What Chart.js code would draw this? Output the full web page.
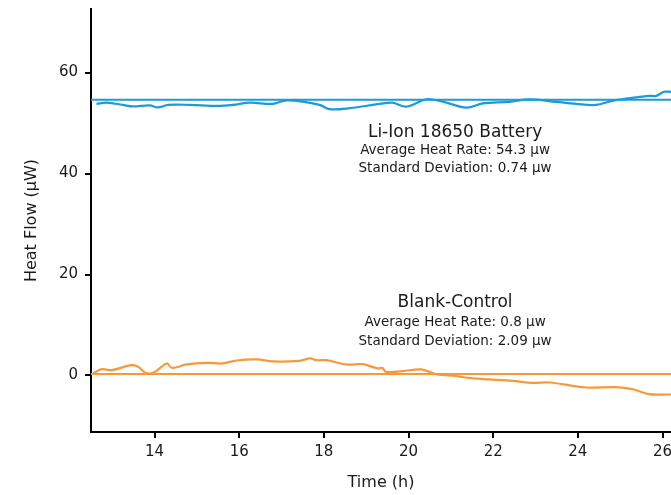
<!DOCTYPE html>
<html>
<head>
<meta charset="utf-8">
<script src="https://cdn.jsdelivr.net/npm/chart.js@4/dist/chart.umd.min.js"></script>
<style>
html,body{margin:0;padding:0;background:#fff;}
#wrap{width:671px;height:495px;position:relative;}
</style>
</head>
<body>
<div id="wrap"><canvas id="c" width="671" height="495"></canvas></div>
<script>
// ---- data ----
const liIonTime = [12.63,12.87,13.25,13.49,13.89,14.08,14.32,14.83,15.47,15.85,16.25,16.79,17.08,17.5,17.9,18.14,18.61,19.32,19.62,19.95,20.42,20.8,21.37,21.75,22.38,22.85,23.49,23.96,24.43,24.81,25.38,25.68,25.85,26.04,26.2];
const liIonFlow = [53.8,54.05,53.6,53.3,53.5,53.1,53.6,53.6,53.4,53.6,54.05,53.8,54.45,54.25,53.6,52.75,52.95,53.8,54.05,53.26,54.7,54.25,53.06,53.9,54.2,54.7,54.2,53.8,53.6,54.4,55.1,55.4,55.4,56.2,56.2];
const blankTime = [12.55,12.75,12.99,13.46,13.62,13.77,13.97,14.29,14.41,14.76,15.23,15.61,15.94,16.41,16.8,17.43,17.67,17.82,18.06,18.53,18.92,19.27,19.38,19.47,19.86,20.3,20.65,21.13,21.52,21.91,22.46,22.93,23.33,24.19,24.9,25.29,25.68,26.2];
const blankFlow = [0.4,1.25,1.05,2.04,1.7,0.6,0.52,2.38,1.5,2.18,2.5,2.38,2.97,3.17,2.78,2.9,3.37,3.03,3.03,2.18,2.24,1.39,1.5,0.71,0.85,1.19,0.26,-0.14,-0.59,-0.79,-1.07,-1.47,-1.39,-2.38,-2.32,-2.72,-3.71,-3.77];
const avgLineTime = [12.5, 26.2];
const liIonAvg = [54.6, 54.6];
const blankAvg = [0.3, 0.3];
const xTicks = [14,16,18,20,22,24,26];
const yTicks = [0,20,40,60];
const liIonNotes = ["Li-Ion 18650 Battery","Average Heat Rate: 54.3 \u03bcw","Standard Deviation: 0.74 \u03bcw"];
const blankNotes = ["Blank-Control","Average Heat Rate: 0.8 \u03bcw","Standard Deviation: 2.09 \u03bcw"];

const BLUE = '#1b9bd7';
const ORANGE = '#f7993b';
const FONT = '"DejaVu Sans", sans-serif';

function pts(xs, ys){ return xs.map((x,i)=>({x:x, y:ys[i]})); }

const notesPlugin = {
  id: 'notes',
  afterDatasetsDraw(chart){
    const ctx = chart.ctx;
    const xs = chart.scales.x, ys = chart.scales.y;
    const cx = xs.getPixelForValue(21.1);
    function block(lines, yv){
      ctx.save();
      ctx.fillStyle = '#1a1a1a';
      ctx.textAlign = 'center';
      ctx.textBaseline = 'middle';
      ctx.font = '17px ' + FONT;
      ctx.fillText(lines[0], cx, ys.getPixelForValue(yv[0]));
      ctx.font = '13.5px ' + FONT;
      ctx.fillText(lines[1], cx, ys.getPixelForValue(yv[1]));
      ctx.fillText(lines[2], cx, ys.getPixelForValue(yv[2]));
      ctx.restore();
    }
    block(liIonNotes, [48.2, 44.5, 41.1]);
    block(blankNotes, [14.5, 10.4, 6.8]);
  }
};

new Chart(document.getElementById('c'), {
  type: 'line',
  data: {
    datasets: [
      {data: pts(avgLineTime, liIonAvg), borderColor: BLUE, borderWidth: 2, pointRadius: 0, tension: 0},
      {data: pts(liIonTime, liIonFlow), borderColor: BLUE, borderWidth: 2.2, pointRadius: 0, tension: 0.35},
      {data: pts(avgLineTime, blankAvg), borderColor: ORANGE, borderWidth: 2, pointRadius: 0, tension: 0},
      {data: pts(blankTime, blankFlow), borderColor: ORANGE, borderWidth: 2.2, pointRadius: 0, tension: 0.35}
    ]
  },
  options: {
    responsive: false,
    animation: false,
    events: [],
    layout: {padding: {top: 9, right: 0, left: 0, bottom: 0}},
    plugins: {legend: {display: false}, tooltip: {enabled: false}},
    scales: {
      x: {
        type: 'linear',
        min: 12.5, max: 26.2,
        afterBuildTicks(s){ s.ticks = xTicks.map(v=>({value:v})); },
        afterFit(s){ s.height = 63; s.paddingLeft = 0; s.paddingRight = 0; },
        border: {display: true, color: '#000', width: 2},
        grid: {drawOnChartArea: false, drawTicks: true, tickLength: 6, color: '#000', lineWidth: 2},
        ticks: {color: '#1a1a1a', font: {family: FONT, size: 15}, padding: 5, maxRotation: 0, autoSkip: false},
        title: {display: true, text: 'Time (h)', color: '#1a1a1a', font: {family: FONT, size: 16}, padding: {top: 2, bottom: 3}}
      },
      y: {
        type: 'linear',
        min: -11.2, max: 72.6,
        afterBuildTicks(s){ s.ticks = yTicks.map(v=>({value:v})); },
        afterFit(s){ s.width = 91; s.paddingTop = 0; s.paddingBottom = 0; },
        border: {display: true, color: '#000', width: 2},
        grid: {drawOnChartArea: false, drawTicks: true, tickLength: 6, color: '#000', lineWidth: 2},
        ticks: {color: '#1a1a1a', font: {family: FONT, size: 15}, padding: 7},
        title: {display: true, text: 'Heat Flow (\u03bcW)', color: '#1a1a1a', font: {family: FONT, size: 16}, padding: {top: 22, bottom: 4}}
      }
    }
  },
  plugins: [notesPlugin]
});
</script>
</body>
</html>
